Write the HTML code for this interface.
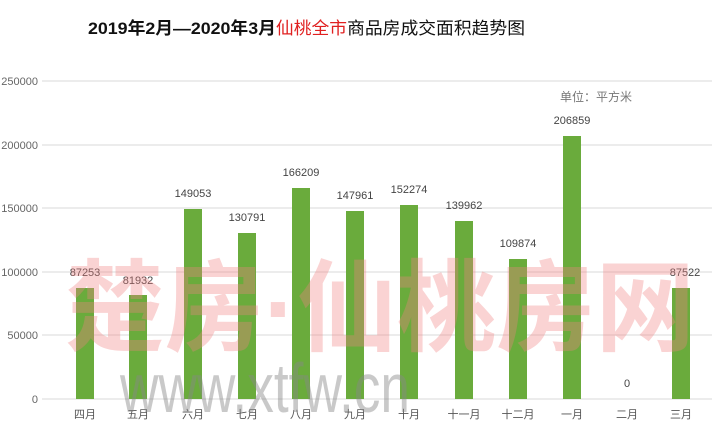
<!DOCTYPE html>
<html><head><meta charset="utf-8"><style>
body{margin:0;background:#fff;}
svg text{font-family:"Liberation Sans","Noto Sans CJK SC",sans-serif;}
</style></head><body>
<svg width="720" height="436" viewBox="0 0 720 436" xmlns="http://www.w3.org/2000/svg">
<rect width="720" height="436" fill="#fff"/>
<text x="88" y="34" font-size="17" font-weight="bold" fill="#111" textLength="437" lengthAdjust="spacingAndGlyphs">2019年2月—2020年3月<tspan fill="#e02020" font-weight="normal">仙桃全市</tspan><tspan font-weight="normal">商品房成交面积趋势图</tspan></text>
<g stroke="#d9d9d9" stroke-width="1">
<line x1="42" x2="712" y1="81" y2="81"/><line x1="42" x2="712" y1="145" y2="145"/><line x1="42" x2="712" y1="208" y2="208"/><line x1="42" x2="712" y1="272" y2="272"/><line x1="42" x2="712" y1="335" y2="335"/><line x1="42" x2="712" y1="399" y2="399"/>
</g>
<g font-size="11" fill="#666" text-anchor="end">
<text x="38" y="85">250000</text><text x="38" y="149">200000</text><text x="38" y="212">150000</text><text x="38" y="276">100000</text><text x="38" y="339">50000</text><text x="38" y="403">0</text>
</g>
<text x="560" y="101" font-size="12" fill="#777">单位：平方米</text>
<g fill="#6aab3c">
<rect x="76" y="288" width="18" height="111"/>
<rect x="129" y="295" width="18" height="104"/>
<rect x="184" y="209" width="18" height="190"/>
<rect x="238" y="233" width="18" height="166"/>
<rect x="292" y="188" width="18" height="211"/>
<rect x="346" y="211" width="18" height="188"/>
<rect x="400" y="205" width="18" height="194"/>
<rect x="455" y="221" width="18" height="178"/>
<rect x="509" y="259" width="18" height="140"/>
<rect x="563" y="136" width="18" height="263"/>
<rect x="672" y="288" width="18" height="111"/>
</g>
<g font-size="11" fill="#444" text-anchor="middle">
<text x="85" y="276">87253</text><text x="138" y="284">81932</text><text x="193" y="197">149053</text><text x="247" y="221">130791</text><text x="301" y="176">166209</text><text x="355" y="199">147961</text><text x="409" y="193">152274</text><text x="464" y="209">139962</text><text x="518" y="247">109874</text><text x="572" y="124">206859</text><text x="627" y="387">0</text><text x="685" y="276">87522</text>
</g>
<g font-size="11" fill="#555" text-anchor="middle">
<text x="85" y="418">四月</text><text x="138" y="418">五月</text><text x="193" y="418">六月</text><text x="247" y="418">七月</text><text x="301" y="418">八月</text><text x="355" y="418">九月</text><text x="409" y="418">十月</text><text x="464" y="418">十一月</text><text x="518" y="418">十二月</text><text x="572" y="418">一月</text><text x="627" y="418">二月</text><text x="681" y="418">三月</text>
</g>
<text x="380" y="343" font-size="100" fill="#f08080" fill-opacity="0.35" text-anchor="middle" font-family="'Noto Sans CJK SC',sans-serif" font-weight="bold" textLength="630" lengthAdjust="spacingAndGlyphs">楚房·仙桃房网</text>
<text x="265" y="412" font-size="70" fill="#888" fill-opacity="0.45" text-anchor="middle" textLength="290" lengthAdjust="spacingAndGlyphs">www.xtfw.cn</text>
</svg>
</body></html>
